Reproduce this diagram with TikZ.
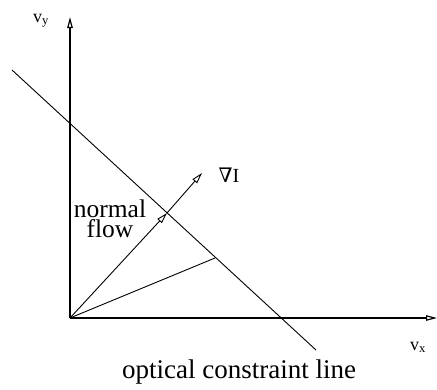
\documentclass[tikz,border=0pt]{standalone}
\usepackage{fontspec}
\setmainfont{Liberation Serif}
\newfontfamily\symfont{DejaVu Serif}
\usetikzlibrary{arrows.meta}
\begin{document}
\begin{tikzpicture}[x=1pt,y=-1pt,
  axis/.style={line width=1.2pt,-{Triangle[open,length=11pt,width=5.5pt]}},
  thin/.style={line width=0.9pt},
  vec/.style={line width=0.9pt,-{Triangle[open,length=11pt,width=6pt]}},
  lbl/.style={inner sep=0pt,anchor=base}]
\useasboundingbox (0,0) rectangle (437,389);
\coordinate (O) at (70,318);
\coordinate (Ytip) at (70,17);
\coordinate (Xtip) at (437,318);
\coordinate (L1) at (12,70);
\coordinate (L2) at (316,350);
\coordinate (N) at (167,213);
\coordinate (G) at (202,173);
\coordinate (P) at (215,258);
\draw[axis] (O) -- (Ytip);
\draw[axis] (O) -- (Xtip);
\draw[thin] (L1) -- (L2);
\draw[vec] (O) -- (N);
\draw[vec] (N) -- (G);
\draw[thin] (O) -- (P);
\node[lbl,font=\fontsize{18}{20}\selectfont] (vy) at (41,22) {v\textsubscript{y}};
\node[lbl,font=\fontsize{18}{20}\selectfont] (vx) at (418,350) {v\textsubscript{x}};
\node[lbl,font=\fontsize{20}{22}\selectfont] (grad) at (229,182) {{\symfont ∇}I};
\node[lbl,align=center,font=\fontsize{25.5}{20}\selectfont] (nf) at (110,237) {normal\\flow};
\node[lbl,font=\fontsize{27}{29}\selectfont] (oc) at (239,378) {optical constraint line};
\end{tikzpicture}
\end{document}
